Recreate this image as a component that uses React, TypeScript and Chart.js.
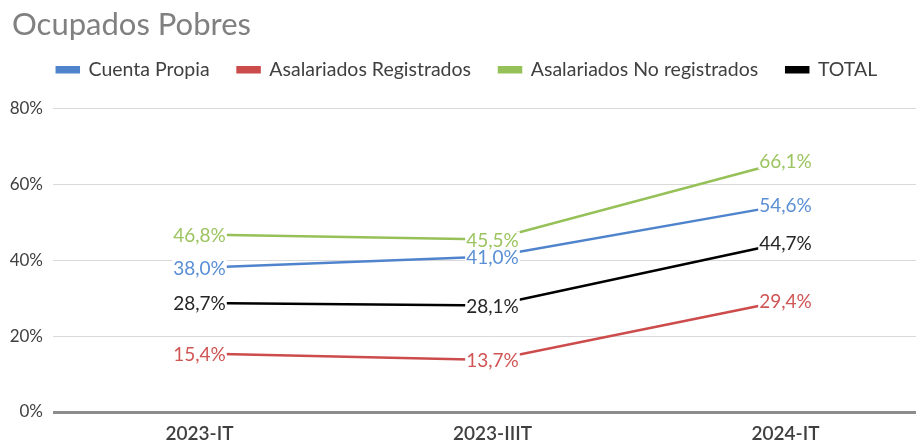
import React, { useEffect, useRef } from "react";
import { Chart, registerables } from "chart.js";

Chart.register(...registerables);

const categories = ["2023-IT", "2023-IIIT", "2024-IT"];
const cuentaPropia = [38.0, 41.0, 54.6];
const asalariadosRegistrados = [15.4, 13.7, 29.4];
const asalariadosNoRegistrados = [46.8, 45.5, 66.1];
const total = [28.7, 28.1, 44.7];
const yTicks = [0, 20, 40, 60, 80];
const titleText = "Ocupados Pobres";

const FONT = "Lato, 'Open Sans', sans-serif";

const fmt = (v: number) => v.toFixed(1).replace(".", ",") + "%";

const dataLabelPlugin = {
  id: "dataLabels",
  afterDatasetsDraw(chart: any) {
    const ctx = chart.ctx;
    ctx.save();
    ctx.font = `19px ${FONT}`;
    ctx.textAlign = "center";
    ctx.textBaseline = "middle";
    chart.data.datasets.forEach((ds: any, i: number) => {
      const meta = chart.getDatasetMeta(i);
      meta.data.forEach((pt: any, j: number) => {
        const txt = fmt(ds.data[j]);
        const w = ctx.measureText(txt).width;
        ctx.fillStyle = "#ffffff";
        ctx.fillRect(pt.x - w / 2 - 1, pt.y - 8, w + 2, 16);
        ctx.fillStyle = ds.labelColor;
        ctx.fillText(txt, pt.x, pt.y + 1);
      });
    });
    ctx.restore();
  },
};

const titlePlugin = {
  id: "leftTitle",
  afterDraw(chart: any) {
    const ctx = chart.ctx;
    ctx.save();
    ctx.font = `31px ${FONT}`;
    ctx.fillStyle = "#808080";
    ctx.textAlign = "left";
    ctx.textBaseline = "middle";
    ctx.fillText(titleText, 12, 25);
    ctx.restore();
  },
};

const legendSpacer = {
  id: "legendSpacer",
  afterInit(chart: any) {
    const lg = chart.legend;
    if (!lg) return;
    const orig = lg.fit;
    lg.fit = function () {
      orig.call(this);
      this.height += 19;
    };
  },
};

export default function App() {
  const ref = useRef<HTMLCanvasElement>(null);
  useEffect(() => {
    if (!ref.current) return;
    const chart = new Chart(ref.current, {
      type: "line",
      data: {
        labels: categories,
        datasets: [
          { label: "Cuenta Propia", data: cuentaPropia, borderColor: "#4f84cc", backgroundColor: "#4f84cc", labelColor: "#5a8fd4" } as any,
          { label: "Asalariados Registrados", data: asalariadosRegistrados, borderColor: "#cc4b4b", backgroundColor: "#cc4b4b", labelColor: "#d05555" } as any,
          { label: "Asalariados No registrados", data: asalariadosNoRegistrados, borderColor: "#96c058", backgroundColor: "#96c058", labelColor: "#9cc460" } as any,
          { label: "TOTAL", data: total, borderColor: "#000000", backgroundColor: "#000000", labelColor: "#262626" } as any,
        ].map((d: any) => ({ ...d, borderWidth: 2.5, pointRadius: 0, tension: 0, fill: false })),
      },
      options: {
        responsive: false,
        animation: false,
        layout: { padding: { left: 2, right: 3, top: 32, bottom: 0 } },
        plugins: {
          title: { display: false },
          legend: {
            display: true,
            position: "top",
            labels: {
              boxWidth: 22,
              boxHeight: 5,
              padding: 28,
              color: "#404040",
              font: { family: FONT, size: 19.5 },
            },
          },
          tooltip: { enabled: false },
        },
        scales: {
          x: {
            offset: true,
            grid: { display: false, drawTicks: false },
            border: { display: false },
            afterFit(scale: any) {
              scale.height = 31;
            },
            ticks: { color: "#404040", padding: 10, font: { family: FONT, size: 19, weight: "600" } },
          },
          y: {
            min: 0,
            max: 80,
            afterBuildTicks(scale: any) {
              scale.ticks = yTicks.map((v) => ({ value: v }));
            },
            afterFit(scale: any) {
              scale.width = 51;
            },
            border: { display: false },
            grid: {
              drawTicks: false,
              color: (c: any) => (c.tick && c.tick.value === 0 ? "#8c8c8c" : "#d9d9d9"),
              lineWidth: (c: any) => (c.tick && c.tick.value === 0 ? 3 : 1),
            },
            ticks: {
              color: "#404040",
              padding: 10,
              font: { family: FONT, size: 17 },
              callback: (v: any) => v + "%",
            },
          },
        },
      } as any,
      plugins: [dataLabelPlugin, legendSpacer, titlePlugin],
    });
    return () => chart.destroy();
  }, []);
  return (
    <div style={{ position: "fixed", left: 0, top: 0, width: 935, height: 443, background: "#fff" }}>
      <canvas ref={ref} width={935} height={443} style={{ width: 935, height: 443, display: "block" }} />
    </div>
  );
}
